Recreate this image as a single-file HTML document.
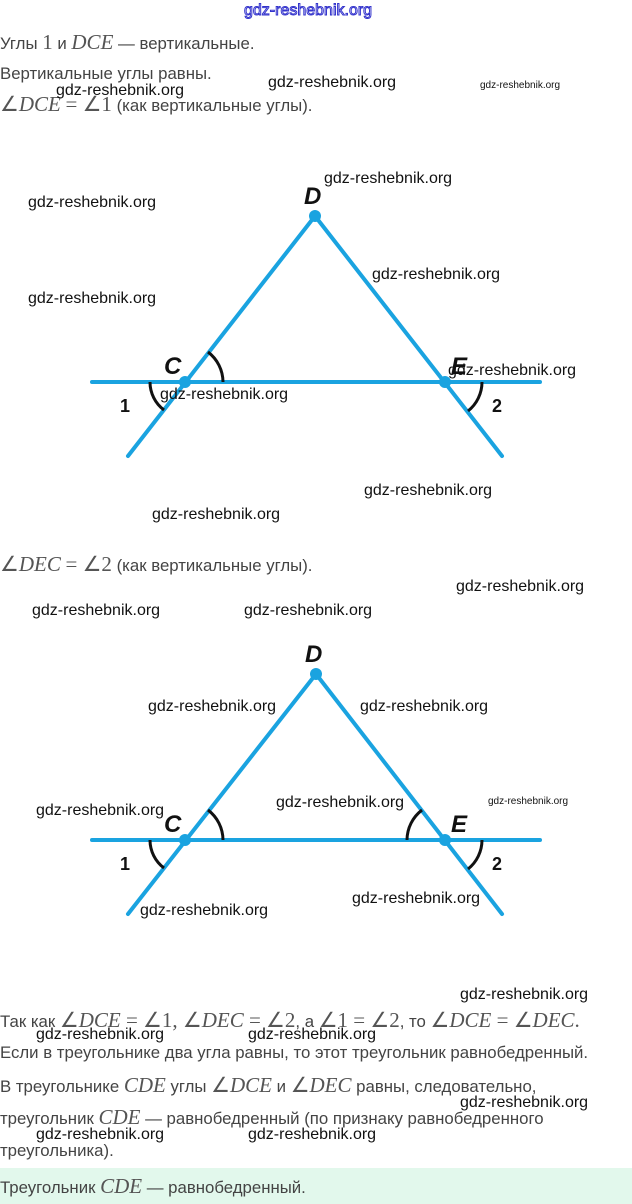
<!DOCTYPE html>
<html><head><meta charset="utf-8"><style>
body{margin:0;width:632px;height:1204px;position:relative;background:#fff;overflow:hidden;font-family:"Liberation Sans",sans-serif;}
.t{position:absolute;left:0;font-size:16.8px;color:#444;white-space:nowrap;}
.m{font-family:"Liberation Serif",serif;font-style:italic;font-size:21px;color:#555;}
.n{font-family:"Liberation Serif",serif;font-size:21px;color:#555;}
.w{position:absolute;font-size:16px;color:#111;white-space:nowrap;}
.ws{position:absolute;font-size:10px;color:#111;white-space:nowrap;}
svg{position:absolute;left:0;top:0;}
.lab{font-family:"Liberation Sans",sans-serif;font-weight:bold;font-style:italic;font-size:24px;fill:#111;}
.num{font-family:"Liberation Sans",sans-serif;font-weight:bold;font-size:18px;fill:#111;}
</style></head><body>
<div style="position:absolute;left:244px;top:2px;font-size:16px;color:#fff;-webkit-text-stroke:1px #3333cc;">gdz-reshebnik.org</div>
<div class="t" style="top:30px">Углы <span class="n">1</span> и <span class="m">DCE</span> — вертикальные.</div>
<div class="t" style="top:64px">Вертикальные углы равны.</div>
<div class="t" style="top:92px"><span class="n">∠</span><span class="m">DCE</span> <span class="n">= ∠1</span> (как вертикальные углы).</div>
<div class="w" style="left:56px;top:82px">gdz-reshebnik.org</div>
<div class="w" style="left:268px;top:74px">gdz-reshebnik.org</div>
<div class="ws" style="left:480px;top:80px">gdz-reshebnik.org</div>

<svg width="632" height="1204">
<g stroke="#1aa3e0" stroke-width="4" stroke-linecap="round" fill="none">
<line x1="92" y1="382" x2="540" y2="382"/><line x1="128" y1="456" x2="315" y2="216"/><line x1="315" y1="216" x2="502" y2="456"/>
<line x1="92" y1="840" x2="540" y2="840"/><line x1="128" y1="914" x2="316" y2="674"/><line x1="316" y1="674" x2="502" y2="914"/>
</g>
<g fill="#1aa3e0"><circle cx="315" cy="216" r="6"/><circle cx="185" cy="382" r="6"/><circle cx="445" cy="382" r="6"/>
<circle cx="316" cy="674" r="6"/><circle cx="185" cy="840" r="6"/><circle cx="445" cy="840" r="6"/></g>
<g stroke="#111" stroke-width="3" fill="none">
<path d="M208,352 A38,38 0 0 1 223,382"/><path d="M150,382 A35,35 0 0 0 164,410"/><path d="M482,382 A37,37 0 0 1 468,411"/>
<path d="M208,810 A38,38 0 0 1 223,840"/><path d="M150,840 A35,35 0 0 0 164,868"/><path d="M482,840 A37,37 0 0 1 468,869"/>
<path d="M422,810 A38,38 0 0 0 407,840"/>
</g>
<text class="lab" x="304" y="204">D</text><text class="lab" x="164" y="374">C</text><text class="lab" x="451" y="374">E</text>
<text class="num" x="120" y="412">1</text><text class="num" x="492" y="412">2</text>
<text class="lab" x="305" y="662">D</text><text class="lab" x="164" y="832">C</text><text class="lab" x="451" y="832">E</text>
<text class="num" x="120" y="870">1</text><text class="num" x="492" y="870">2</text>
</svg>

<div class="w" style="left:324px;top:170px">gdz-reshebnik.org</div>
<div class="w" style="left:28px;top:194px">gdz-reshebnik.org</div>
<div class="w" style="left:372px;top:266px">gdz-reshebnik.org</div>
<div class="w" style="left:28px;top:290px">gdz-reshebnik.org</div>
<div class="w" style="left:448px;top:362px">gdz-reshebnik.org</div>
<div class="w" style="left:160px;top:386px">gdz-reshebnik.org</div>
<div class="w" style="left:364px;top:482px">gdz-reshebnik.org</div>
<div class="w" style="left:152px;top:506px">gdz-reshebnik.org</div>

<div class="t" style="top:552px"><span class="n">∠</span><span class="m">DEC</span> <span class="n">= ∠2</span> (как вертикальные углы).</div>
<div class="w" style="left:456px;top:578px">gdz-reshebnik.org</div>
<div class="w" style="left:32px;top:602px">gdz-reshebnik.org</div>
<div class="w" style="left:244px;top:602px">gdz-reshebnik.org</div>
<div class="w" style="left:148px;top:698px">gdz-reshebnik.org</div>
<div class="w" style="left:360px;top:698px">gdz-reshebnik.org</div>
<div class="w" style="left:276px;top:794px">gdz-reshebnik.org</div>
<div class="ws" style="left:488px;top:796px">gdz-reshebnik.org</div>
<div class="w" style="left:36px;top:802px">gdz-reshebnik.org</div>
<div class="w" style="left:352px;top:890px">gdz-reshebnik.org</div>
<div class="w" style="left:140px;top:902px">gdz-reshebnik.org</div>

<div class="w" style="left:460px;top:986px">gdz-reshebnik.org</div>
<div class="t" style="top:1008px">Так как <span class="n">∠</span><span class="m">DCE</span><span class="n"> = ∠1, ∠</span><span class="m">DEC</span><span class="n"> = ∠2</span>, а <span class="n">∠1 = ∠2</span>, то <span class="n">∠</span><span class="m">DCE</span><span class="n"> = ∠</span><span class="m">DEC</span><span class="n">.</span></div>
<div class="w" style="left:36px;top:1026px">gdz-reshebnik.org</div>
<div class="w" style="left:248px;top:1026px">gdz-reshebnik.org</div>
<div class="t" style="top:1043px">Если в треугольнике два угла равны, то этот треугольник равнобедренный.</div>
<div class="t" style="top:1073px">В треугольнике <span class="m">CDE</span> углы <span class="n">∠</span><span class="m">DCE</span> и <span class="n">∠</span><span class="m">DEC</span> равны, следовательно,</div>
<div class="w" style="left:460px;top:1094px">gdz-reshebnik.org</div>
<div class="t" style="top:1105px">треугольник <span class="m">CDE</span> — равнобедренный (по признаку равнобедренного</div>
<div class="w" style="left:36px;top:1126px">gdz-reshebnik.org</div>
<div class="w" style="left:248px;top:1126px">gdz-reshebnik.org</div>
<div class="t" style="top:1141px">треугольника).</div>
<div style="position:absolute;left:0;top:1168px;width:632px;height:36px;background:#e2f8ec;"></div>
<div class="t" style="top:1174px">Треугольник <span class="m">CDE</span> — равнобедренный.</div>
</body></html>
